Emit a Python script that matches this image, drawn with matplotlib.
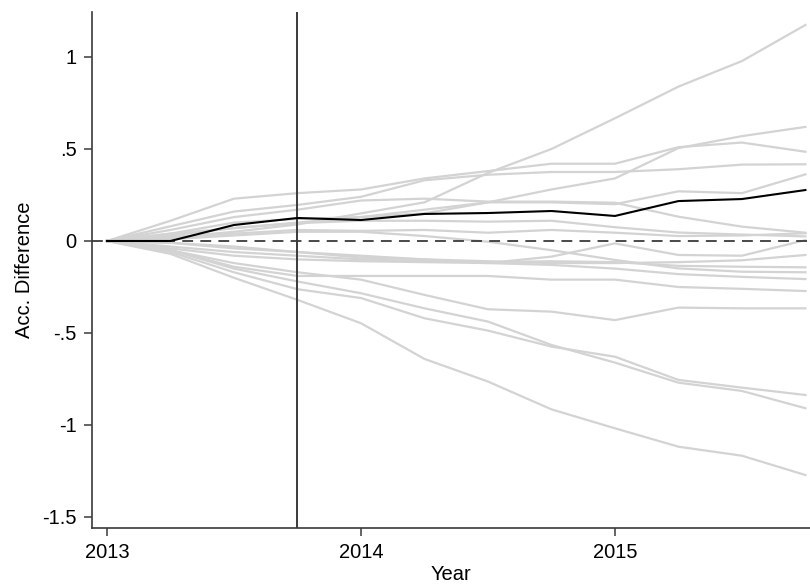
import numpy as np
import matplotlib.pyplot as plt

plt.rcParams['font.family'] = ['Liberation Sans', 'DejaVu Sans']

# quarterly time axis
years = [2013.0, 2013.25, 2013.5, 2013.75, 2014.0, 2014.25,
         2014.5, 2014.75, 2015.0, 2015.25, 2015.5, 2015.75]
treat_time = 2013.75

# treated unit
treated = [0, 0, 0.087, 0.125, 0.114, 0.147, 0.152, 0.163, 0.136, 0.217, 0.228, 0.277]

# placebo units
p01 = [0, 0.02, 0.05, 0.09, 0.15, 0.21, 0.37, 0.50, 0.667, 0.839, 0.978, 1.174]
p02 = [0, 0.03, 0.07, 0.10, 0.13, 0.17, 0.21, 0.28, 0.34, 0.505, 0.57, 0.62]
p03 = [0, 0.11, 0.23, 0.26, 0.28, 0.34, 0.38, 0.42, 0.42, 0.51, 0.535, 0.485]
p04 = [0, 0.08, 0.16, 0.196, 0.24, 0.33, 0.36, 0.375, 0.375, 0.39, 0.415, 0.417]
p05 = [0, 0.04, 0.10, 0.12, 0.13, 0.15, 0.21, 0.21, 0.20, 0.27, 0.26, 0.362]
p06 = [0, 0.06, 0.13, 0.17, 0.22, 0.23, 0.214, 0.214, 0.208, 0.132, 0.078, 0.045]
p07 = [0, 0.04, 0.07, 0.097, 0.11, 0.11, 0.105, 0.11, 0.075, 0.046, 0.035, 0.025]
p08 = [0, 0.02, 0.04, 0.06, 0.055, 0.06, 0.045, 0.06, 0.045, 0.027, 0.03, 0.042]
p09 = [0, 0.01, 0.03, 0.05, 0.05, 0.027, -0.004, -0.05, -0.103, -0.149, -0.167, -0.17]
p10 = [0, -0.01, -0.03, -0.06, -0.08, -0.10, -0.12, -0.085, -0.013, -0.076, -0.08, 0.005]
p11 = [0, -0.01, -0.04, -0.06, -0.09, -0.10, -0.11, -0.12, -0.12, -0.115, -0.105, -0.076]
p12 = [0, -0.03, -0.06, -0.08, -0.10, -0.11, -0.115, -0.11, -0.115, -0.135, -0.14, -0.143]
p13 = [0, -0.04, -0.08, -0.10, -0.11, -0.115, -0.12, -0.13, -0.15, -0.18, -0.195, -0.207]
p14 = [0, -0.05, -0.14, -0.19, -0.19, -0.19, -0.19, -0.21, -0.21, -0.25, -0.26, -0.272]
p15 = [0, -0.05, -0.12, -0.17, -0.21, -0.293, -0.371, -0.384, -0.43, -0.362, -0.366, -0.366]
p16 = [0, -0.06, -0.17, -0.262, -0.31, -0.42, -0.487, -0.574, -0.629, -0.755, -0.797, -0.837]
p17 = [0, -0.05, -0.15, -0.22, -0.284, -0.366, -0.438, -0.565, -0.661, -0.77, -0.815, -0.909]
p18 = [0, -0.07, -0.2, -0.32, -0.447, -0.641, -0.764, -0.915, -1.018, -1.118, -1.167, -1.272]
placebos = [p01, p02, p03, p04, p05, p06, p07, p08, p09,
            p10, p11, p12, p13, p14, p15, p16, p17, p18]

xticks = [2013, 2014, 2015]
yticks = [1, 0.5, 0, -0.5, -1, -1.5]
yticklabels = ['1', '.5', '0', '-.5', '-1', '-1.5']

fig = plt.figure(figsize=(8.1, 5.85), dpi=100)
ax = fig.add_axes([0.1136, 0.0974, 0.8864, 0.8821])

for p in placebos:
    ax.plot(years, p, color='#d3d3d3', lw=1.6, zorder=1)

ax.axhline(0, color='#3a3a3a', lw=1.3, ls=(0, (6, 4)), zorder=2)
ax.axvline(treat_time, color='#3a3a3a', lw=1.4, zorder=3)
ax.plot(years, treated, color='black', lw=1.5, zorder=4)

ax.set_xlim(2012.941, 2015.768)
ax.set_ylim(-1.560, 1.2446)
ax.set_xticks(xticks)
ax.set_xticklabels([str(t) for t in xticks])
ax.set_yticks(yticks)
ax.set_yticklabels(yticklabels)

for s in ['top', 'right']:
    ax.spines[s].set_visible(False)
for s in ['left', 'bottom']:
    ax.spines[s].set_color('#3a3a3a')
    ax.spines[s].set_linewidth(1.2)

ax.tick_params(axis='both', direction='out', length=6, width=1.1,
               color='#3a3a3a', labelsize=14.5, pad=5)
ax.set_xlabel('Year', fontsize=14.5, labelpad=2)
ax.set_ylabel('Acc. Difference', fontsize=14.5, labelpad=6)

fig.savefig('out.png', dpi=100)
